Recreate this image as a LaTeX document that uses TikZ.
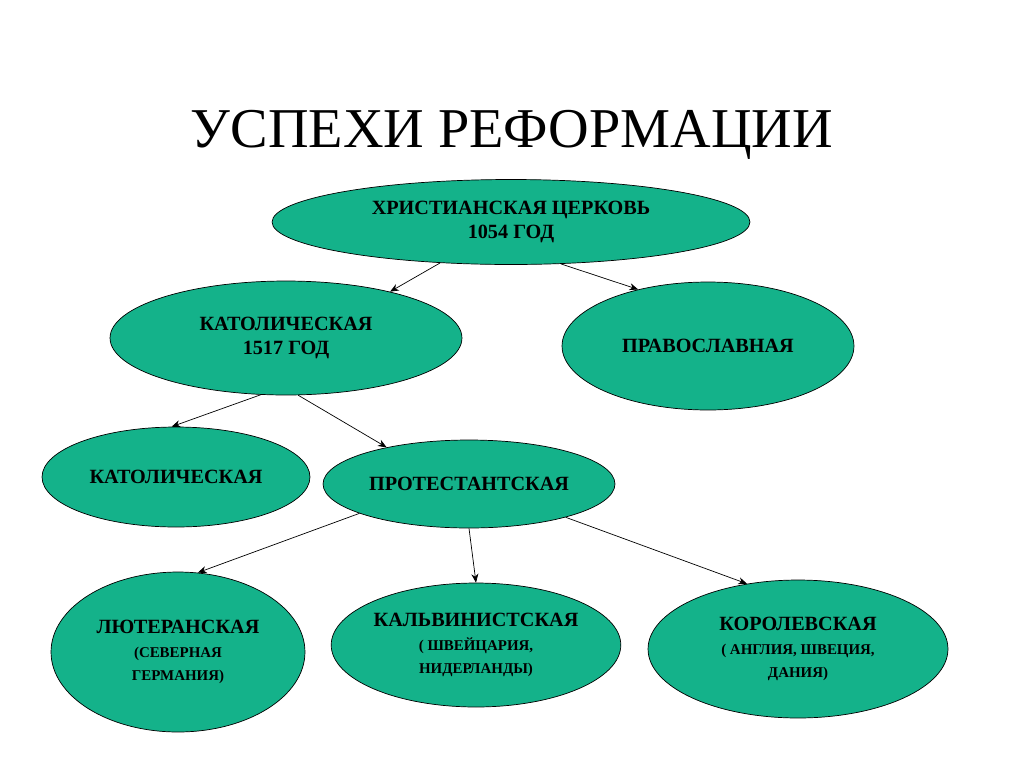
\documentclass[tikz,border=0pt]{standalone}
\usepackage{fontspec}
\setmainfont{Liberation Serif}
\usetikzlibrary{shapes.geometric,arrows.meta}
\definecolor{sect}{RGB}{20,178,138}
\tikzset{
  church/.style={ellipse, draw=black, thin, fill=sect, inner sep=0pt,
    font=\fontsize{11.5}{13.5}\selectfont\bfseries, align=center},
  branch/.style={-{Stealth[length=5pt,width=4pt]}, thin},
  small/.style={font=\fontsize{8.5}{10.5}\selectfont\bfseries}
}
\newcommand{\sub}[1]{{\fontsize{8.5}{10.5}\selectfont #1}}
\begin{document}
\begin{tikzpicture}[x=0.02cm,y=-0.02cm]
        \useasboundingbox (0,0) rectangle (1024,768);
        \node [font=\fontsize{32}{36}\selectfont] (title) at (512,135) {УСПЕХИ РЕФОРМАЦИИ};
        \node [church, minimum width=478\pgflinewidth, minimum width=9.56cm, minimum height=1.7cm] (church) at (511,222) {ХРИСТИАНСКАЯ ЦЕРКОВЬ\\1054 ГОД};
        \node [church, minimum width=7.04cm, minimum height=2.28cm] (cath) at (286,338) {КАТОЛИЧЕСКАЯ\\1517 ГОД};
        \node [church, minimum width=5.84cm, minimum height=2.56cm] (orth) at (708,346) {ПРАВОСЛАВНАЯ};
        \node [church, minimum width=5.36cm, minimum height=2cm] (cath2) at (176,477) {КАТОЛИЧЕСКАЯ};
        \node [church, minimum width=5.84cm, minimum height=1.76cm] (prot) at (469,484) {ПРОТЕСТАНТСКАЯ};
        \node [church, minimum width=5.08cm, minimum height=3.2cm] (luth) at (178,652) {ЛЮТЕРАНСКАЯ\\\sub{(СЕВЕРНАЯ}\\\sub{ГЕРМАНИЯ)}};
        \node [church, minimum width=5.44cm, minimum height=2.48cm] (calv) at (476,645) {КАЛЬВИНИСТСКАЯ\\\sub{( ШВЕЙЦАРИЯ,}\\\sub{НИДЕРЛАНДЫ)}};
        \node [church, minimum width=6cm, minimum height=2.76cm] (royal) at (798,649) {КОРОЛЕВСКАЯ\\\sub{( АНГЛИЯ, ШВЕЦИЯ,}\\\sub{ДАНИЯ)}};
        % branches
        \draw [branch] (church.210) -- (cath.24);
        \draw [branch] (church.320) -- (orth.141);
        \draw [branch] (cath.246) -- (cath2.95);
        \draw [branch] (cath.282) -- (prot.156);
        \draw [branch] (prot.195) -- (luth.76);
        \draw [branch] (prot.south) -- (calv.north);
        \draw [branch] (prot.341) -- (royal.128);
\end{tikzpicture}
\end{document}
